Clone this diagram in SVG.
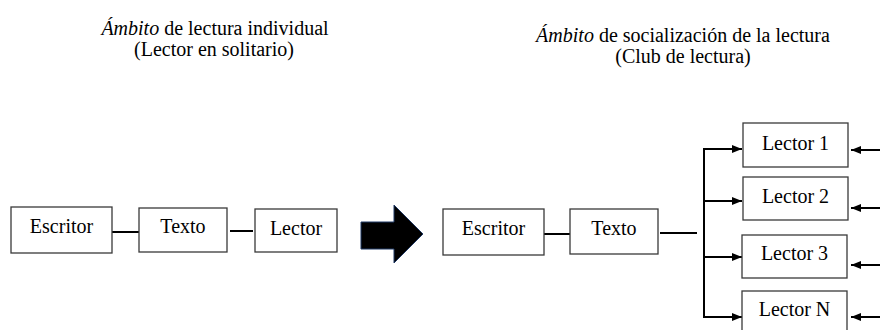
<svg xmlns="http://www.w3.org/2000/svg" width="880" height="330" viewBox="0 0 880 330">
<style>
.box{fill:#fff;stroke:#3a3a3a;stroke-width:1.3}
.c{stroke:#000;stroke-width:2;fill:none}
</style>
<defs>
<marker id="ah" markerUnits="userSpaceOnUse" markerWidth="10" markerHeight="10" refX="10" refY="5" orient="auto">
<path d="M0,1 L10,5 L0,9 z" fill="#000"/>
</marker>
</defs>
<text x="215" y="35" font-family="Liberation Serif" font-size="20" text-anchor="middle"><tspan font-style="italic">Ámbito</tspan> de lectura individual</text>
<text x="214" y="56" font-family="Liberation Serif" font-size="20" text-anchor="middle">(Lector en solitario)</text>
<text x="683" y="41.5" font-family="Liberation Serif" font-size="20" text-anchor="middle"><tspan font-style="italic">Ámbito</tspan> de socialización de la lectura</text>
<text x="683" y="63" font-family="Liberation Serif" font-size="20" text-anchor="middle">(Club de lectura)</text>

<g id="connectors">
<line class="c" x1="112" y1="232" x2="139" y2="232"/>
<line class="c" x1="230" y1="231" x2="253" y2="231"/>
<line class="c" x1="544" y1="234" x2="570" y2="234"/>
<line class="c" x1="660" y1="233" x2="697" y2="233"/>
<line class="c" x1="704" y1="148" x2="704" y2="318"/>
<line class="c" x1="703" y1="149" x2="742" y2="149" marker-end="url(#ah)"/>
<line class="c" x1="703" y1="201" x2="742" y2="201" marker-end="url(#ah)"/>
<line class="c" x1="703" y1="257" x2="742" y2="257" marker-end="url(#ah)"/>
<line class="c" x1="703" y1="317" x2="742" y2="317" marker-end="url(#ah)"/>
<line class="c" x1="880" y1="150" x2="851" y2="150" marker-end="url(#ah)"/>
<line class="c" x1="880" y1="208" x2="851" y2="208" marker-end="url(#ah)"/>
<line class="c" x1="880" y1="265" x2="851" y2="265" marker-end="url(#ah)"/>
<line class="c" x1="880" y1="317" x2="851" y2="317" marker-end="url(#ah)"/>
</g>

<g id="bigarrow">
<polygon points="361,222 394,222 394,205 423,234 394,263 394,249 361,249" fill="#000" stroke="#1f3864" stroke-width="1"/>
</g>

<g id="escritor1"><rect class="box" x="11" y="207" width="101" height="46"/><text x="61.5" y="233" font-family="Liberation Serif" font-size="20" text-anchor="middle">Escritor</text></g>
<g id="texto1"><rect class="box" x="139" y="208" width="88" height="44"/><text x="183" y="233" font-family="Liberation Serif" font-size="20" text-anchor="middle">Texto</text></g>
<g id="lector1"><rect class="box" x="255" y="209" width="82" height="43"/><text x="296" y="235" font-family="Liberation Serif" font-size="20" text-anchor="middle">Lector</text></g>
<g id="escritor2"><rect class="box" x="443" y="209" width="101" height="46"/><text x="493.5" y="235" font-family="Liberation Serif" font-size="20" text-anchor="middle">Escritor</text></g>
<g id="texto2"><rect class="box" x="570" y="209" width="88" height="45"/><text x="614" y="235" font-family="Liberation Serif" font-size="20" text-anchor="middle">Texto</text></g>
<g id="lectorA"><rect class="box" x="743" y="123" width="105" height="44"/><text x="795.5" y="149.5" font-family="Liberation Serif" font-size="20" text-anchor="middle">Lector 1</text></g>
<g id="lectorB"><rect class="box" x="743" y="177" width="105" height="43"/><text x="795.5" y="203" font-family="Liberation Serif" font-size="20" text-anchor="middle">Lector 2</text></g>
<g id="lectorC"><rect class="box" x="742" y="235" width="105" height="43"/><text x="794.5" y="260" font-family="Liberation Serif" font-size="20" text-anchor="middle">Lector 3</text></g>
<g id="lectorN"><rect class="box" x="742" y="291" width="105" height="45"/><text x="794.5" y="316" font-family="Liberation Serif" font-size="20" text-anchor="middle">Lector N</text></g>
</svg>
